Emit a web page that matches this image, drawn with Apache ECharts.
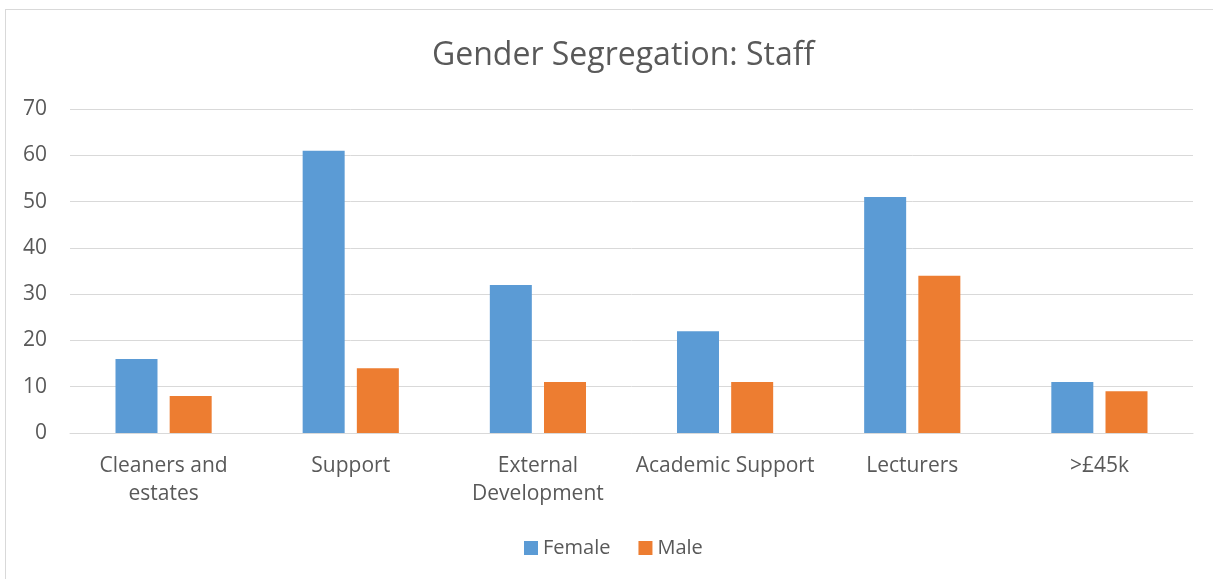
<!DOCTYPE html>
<html>
<head>
<meta charset="utf-8">
<script src="https://cdn.jsdelivr.net/npm/echarts@6/dist/echarts.min.js"></script>
<style>
  html, body { margin: 0; padding: 0; background: #fff; }
  #frame { position: absolute; left: 5px; top: 9px; width: 1220px; height: 600px; border: 1px solid #d9d9d9; }
  #chart { position: absolute; left: 0; top: 0; width: 1213px; height: 579px; }
</style>
</head>
<body>
<div id="frame"></div>
<div id="chart"></div>
<script>
// categories, with the line breaks used on the axis
var categories = ["Cleaners and\nestates", "Support", "External\nDevelopment", "Academic Support", "Lecturers", ">£45k"];
var female = [16, 61, 32, 22, 51, 11];
var male = [8, 14, 11, 11, 34, 9];

var textColor = "#595959";
var font = "'Open Sans', 'Noto Sans', sans-serif";

var chart = echarts.init(document.getElementById("chart"));
chart.setOption({
  animation: false,
  textStyle: { fontFamily: font },
  // the chart frame runs past the right edge, so title and legend sit a bit right of centre
  title: {
    text: "Gender Segregation: Staff",
    left: 427,
    top: 35,
    textStyle: { color: textColor, fontSize: 32, fontWeight: "normal", fontFamily: font },
  },
  legend: {
    bottom: 16,
    left: 519,
    icon: "rect",
    itemWidth: 14,
    itemHeight: 14,
    itemGap: 28,
    textStyle: { color: textColor, fontSize: 20, fontFamily: font },
    data: ["Female", "Male"],
  },
  grid: {
    left: 70,
    right: 20,
    top: 109,
    bottom: 146,
  },
  xAxis: {
    type: "category",
    data: categories,
    axisTick: { show: false },
    axisLine: { lineStyle: { color: "#d9d9d9", width: 1 } },
    axisLabel: {
      color: textColor,
      fontSize: 21,
      margin: 19,
      lineHeight: 28,
      interval: 0,
    },
  },
  yAxis: {
    type: "value",
    min: 0,
    max: 70,
    interval: 10,
    axisLine: { show: false },
    axisTick: { show: false },
    splitLine: { lineStyle: { color: "#d9d9d9", width: 1 } },
    axisLabel: { color: textColor, fontSize: 21, margin: 23 },
  },
  series: [
    {
      name: "Female",
      type: "bar",
      data: female,
      barWidth: 42,
      barGap: "29%",
      itemStyle: { color: "#5B9BD5" },
    },
    {
      name: "Male",
      type: "bar",
      data: male,
      barWidth: 42,
      itemStyle: { color: "#ED7D31" },
    },
  ],
});
</script>
</body>
</html>
